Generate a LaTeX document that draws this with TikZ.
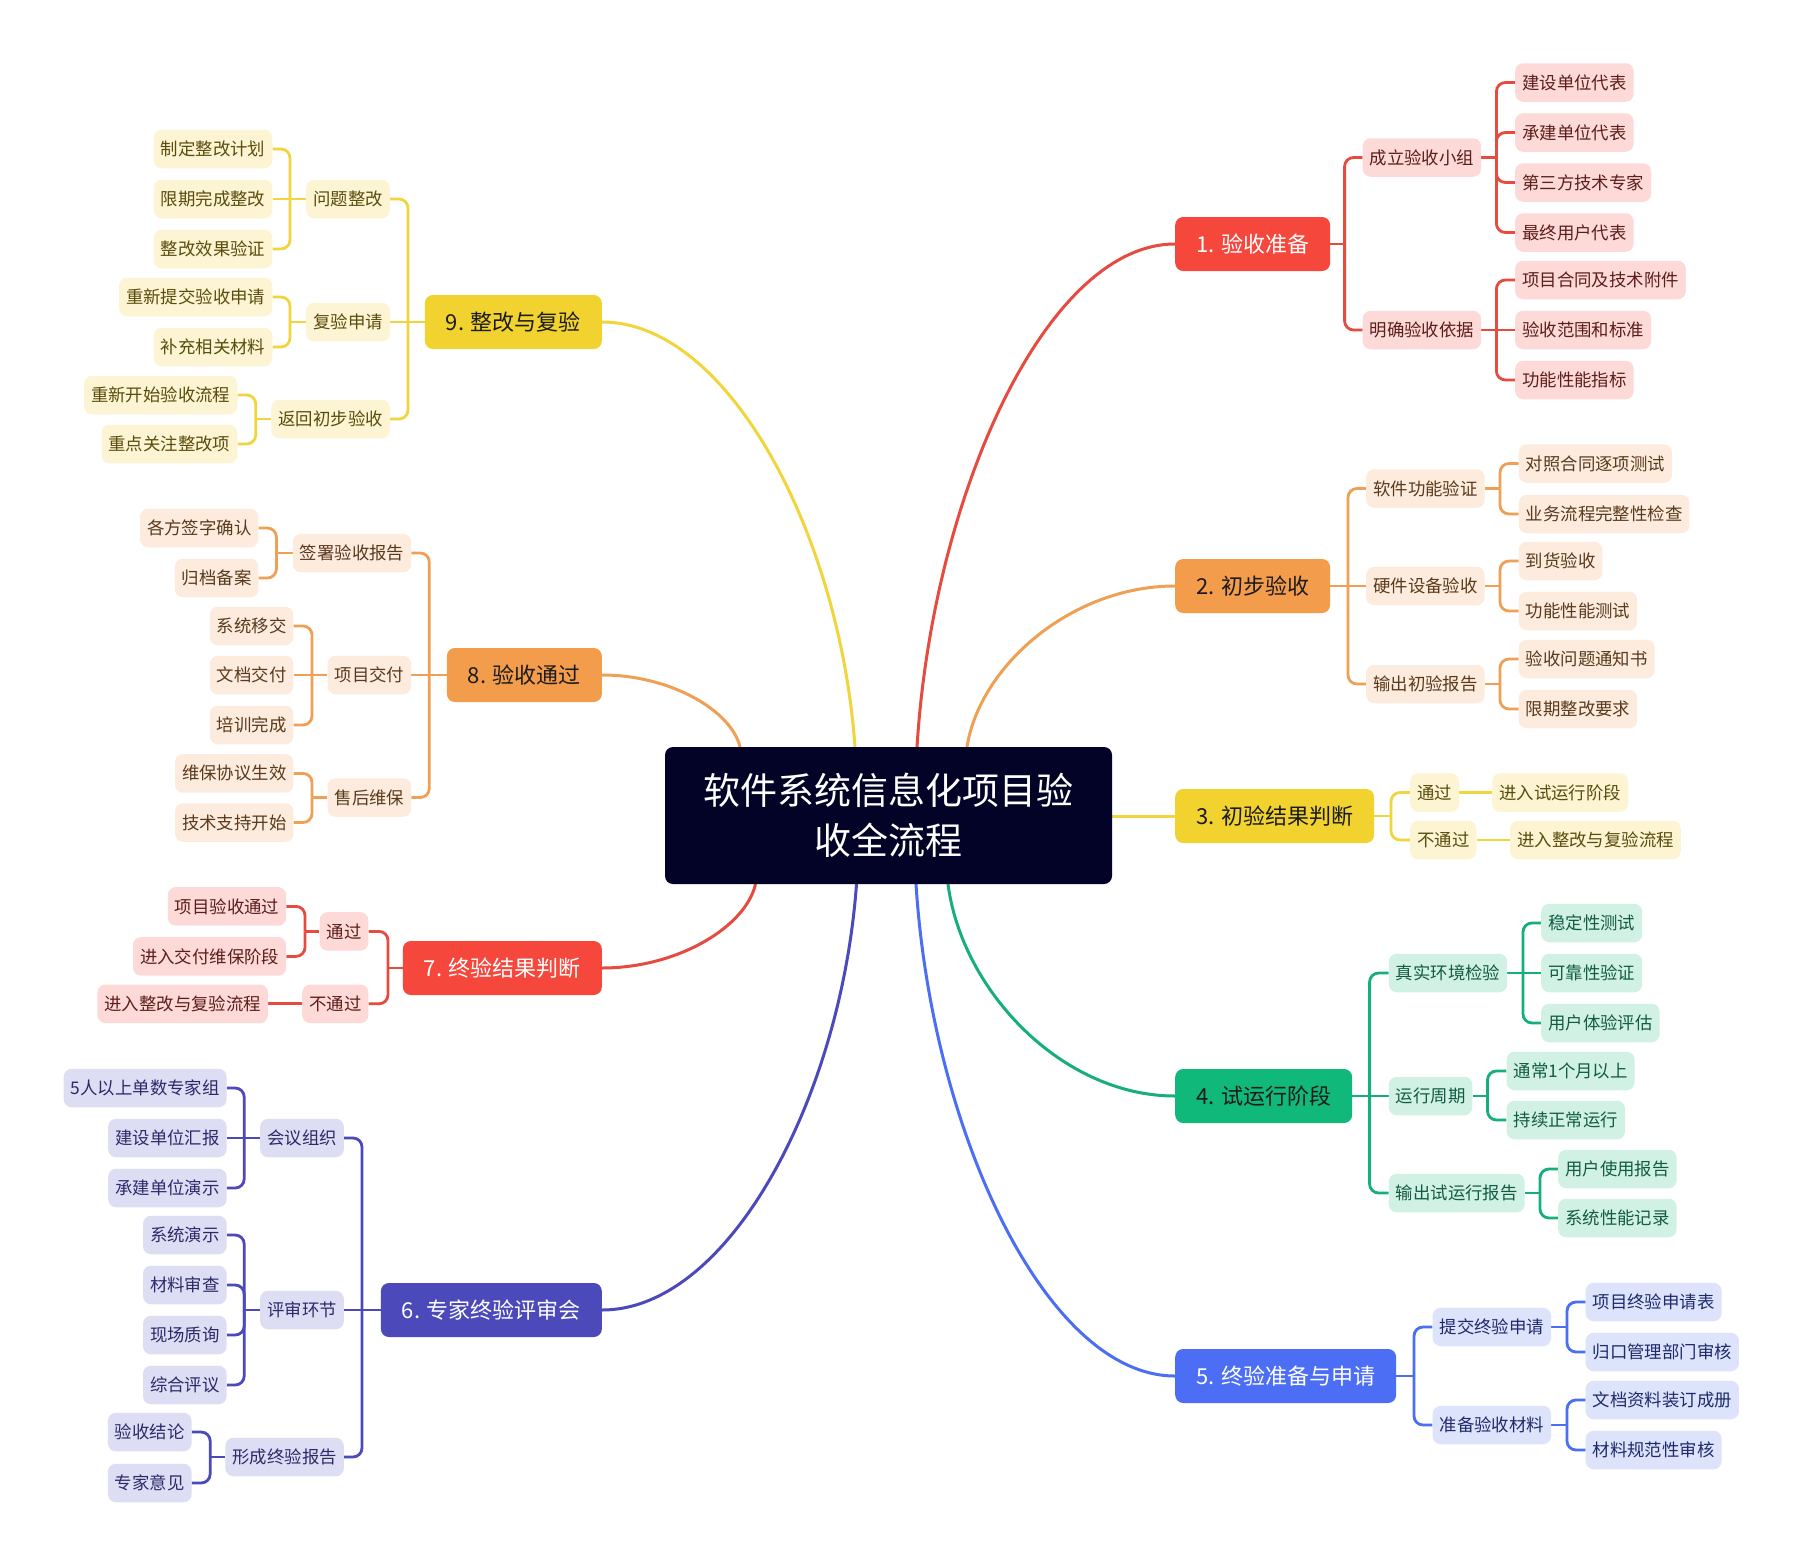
\documentclass[tikz,border=0pt]{standalone}
\usepackage{fontspec}
\setmainfont{Noto Sans CJK SC}
\usetikzlibrary{calc}
\definecolor{Ctr}{HTML}{020326}
\definecolor{MainDark}{HTML}{1B1B1B}
\definecolor{RedM}{HTML}{F5473B}\definecolor{RedL}{HTML}{FDDAD8}\definecolor{RedC}{HTML}{E54B3F}\definecolor{RedT}{HTML}{5B1E1A}
\definecolor{OraM}{HTML}{F39D4C}\definecolor{OraL}{HTML}{FDEBDD}\definecolor{OraC}{HTML}{EFA055}\definecolor{OraT}{HTML}{5A3A1C}
\definecolor{YelM}{HTML}{F2D22E}\definecolor{YelL}{HTML}{FCF4D2}\definecolor{YelC}{HTML}{F2D43C}\definecolor{YelT}{HTML}{5A4C0C}
\definecolor{GrnM}{HTML}{10B87A}\definecolor{GrnL}{HTML}{D1F1E5}\definecolor{GrnC}{HTML}{15AE7C}\definecolor{GrnT}{HTML}{125C43}
\definecolor{BluM}{HTML}{4C6EF5}\definecolor{BluL}{HTML}{DEE3FC}\definecolor{BluC}{HTML}{4C6EF5}\definecolor{BluT}{HTML}{1D2B6B}
\definecolor{PurM}{HTML}{4C49BB}\definecolor{PurL}{HTML}{DDDDF3}\definecolor{PurC}{HTML}{4C49BB}\definecolor{PurT}{HTML}{2C2A6B}
\pgfdeclarelayer{bg}
\pgfsetlayers{bg,main}
\tikzset{
  leaf/.style={rounded corners=8pt, minimum height=38.5pt, inner xsep=7pt, inner ysep=0pt, font=\fontsize{17.4}{21}\selectfont},
  mainbox/.style={rounded corners=8pt, minimum height=54pt, inner xsep=21pt, inner ysep=0pt, font=\fontsize{22}{26}\selectfont},
  ctrbox/.style={rounded corners=8pt, fill=Ctr, text=white, minimum width=447pt, minimum height=137pt, inner sep=0pt, align=center, font=\fontsize{37}{50}\selectfont},
  Rl/.style={leaf, fill=RedL, text=RedT}, Rm/.style={mainbox, fill=RedM, text=white}, Rc/.style={draw=RedC, line width=2.8pt},
  Ol/.style={leaf, fill=OraL, text=OraT}, Om/.style={mainbox, fill=OraM, text=MainDark}, Oc/.style={draw=OraC, line width=2.8pt},
  Yl/.style={leaf, fill=YelL, text=YelT}, Ym/.style={mainbox, fill=YelM, text=MainDark}, Yc/.style={draw=YelC, line width=2.8pt},
  Gl/.style={leaf, fill=GrnL, text=GrnT}, Gm/.style={mainbox, fill=GrnM, text=MainDark}, Gc/.style={draw=GrnC, line width=2.8pt},
  Bl/.style={leaf, fill=BluL, text=BluT}, Bm/.style={mainbox, fill=BluM, text=white}, Bc/.style={draw=BluC, line width=2.8pt},
  Pl/.style={leaf, fill=PurL, text=PurT}, Pm/.style={mainbox, fill=PurM, text=white}, Pc/.style={draw=PurC, line width=2.8pt},
}
% fan to the right: style, parent, junction x, bent children
\newcommand\fanR[4]{%
  \coordinate (#2jx) at (#3,0);
  \coordinate (#2j) at (#2.east -| #2jx);
  \draw[#1] (#2.east) -- (#2j);
  \foreach \ch in {#4} {\draw[#1, rounded corners=9pt] (#2j) |- (\ch.west);}
}
\newcommand\fanL[4]{%
  \coordinate (#2jx) at (#3,0);
  \coordinate (#2j) at (#2.west -| #2jx);
  \draw[#1] (#2.west) -- (#2j);
  \foreach \ch in {#4} {\draw[#1, rounded corners=9pt] (#2j) |- (\ch.east);}
}
% big curve from centre: style, start coordinate, end anchor
\newcommand\bigcurve[3]{%
  \coordinate (#2mid) at ($(#2)!0.5!(#3)$);
  \coordinate (#2tw) at ($(#2)!0.06!(#3)$);
  \draw[#1] (#2) .. controls (#2tw |- #2mid) and (#2mid |- #3) .. (#3);
}
\begin{document}
\begin{tikzpicture}[x=1pt,y=-1pt]
\useasboundingbox (0,0) rectangle (1802,1566);
% centre
\node[ctrbox] (c) at (888.5,815.5) {软件系统信息化项目验\\收全流程};
% ---------- branch 1
\node[Rm,anchor=west] (m1) at (1175,244) {1. 验收准备};
\node[Rl,anchor=west] (a1) at (1362.5,157.5) {成立验收小组};
\node[Rl,anchor=west] (b1) at (1362.5,330) {明确验收依据};
\node[Rl,anchor=west] (a1x1) at (1515,82.5) {建设单位代表};
\node[Rl,anchor=west] (a1x2) at (1515,132.5) {承建单位代表};
\node[Rl,anchor=west] (a1x3) at (1515,182.5) {第三方技术专家};
\node[Rl,anchor=west] (a1x4) at (1515,232.5) {最终用户代表};
\node[Rl,anchor=west] (b1x1) at (1515,280) {项目合同及技术附件};
\node[Rl,anchor=west] (b1x2) at (1515,330) {验收范围和标准};
\node[Rl,anchor=west] (b1x3) at (1515,380) {功能性能指标};
% ---------- branch 2
\node[Om,anchor=west] (m2) at (1175,586) {2. 初步验收};
\node[Ol,anchor=west] (a2) at (1366,488.5) {软件功能验证};
\node[Ol,anchor=west] (b2) at (1366,586) {硬件设备验收};
\node[Ol,anchor=west] (c2) at (1366,684) {输出初验报告};
\node[Ol,anchor=west] (a2x1) at (1518.6,463.5) {对照合同逐项测试};
\node[Ol,anchor=west] (a2x2) at (1518.6,514) {业务流程完整性检查};
\node[Ol,anchor=west] (b2x1) at (1518.6,561) {到货验收};
\node[Ol,anchor=west] (b2x2) at (1518.6,611) {功能性能测试};
\node[Ol,anchor=west] (c2x1) at (1518.6,659) {验收问题通知书};
\node[Ol,anchor=west] (c2x2) at (1518.6,709) {限期整改要求};
% ---------- branch 3
\node[Ym,anchor=west] (m3) at (1175,816) {3. 初验结果判断};
\node[Yl,anchor=west] (a3) at (1410,792.5) {通过};
\node[Yl,anchor=west] (b3) at (1410,840) {不通过};
\node[Yl,anchor=west] (a3x) at (1492,792.5) {进入试运行阶段};
\node[Yl,anchor=west] (b3x) at (1510,840) {进入整改与复验流程};
% ---------- branch 4
\node[Gm,anchor=west] (m4) at (1175,1096) {4. 试运行阶段};
\node[Gl,anchor=west] (a4) at (1388.6,973) {真实环境检验};
\node[Gl,anchor=west] (b4) at (1388.6,1096) {运行周期};
\node[Gl,anchor=west] (c4) at (1388.6,1193) {输出试运行报告};
\node[Gl,anchor=west] (a4x1) at (1541,923) {稳定性测试};
\node[Gl,anchor=west] (a4x2) at (1541,973) {可靠性验证};
\node[Gl,anchor=west] (a4x3) at (1541,1023) {用户体验评估};
\node[Gl,anchor=west] (b4x1) at (1506.4,1071) {通常1个月以上};
\node[Gl,anchor=west] (b4x2) at (1506.4,1120) {持续正常运行};
\node[Gl,anchor=west] (c4x1) at (1558,1169) {用户使用报告};
\node[Gl,anchor=west] (c4x2) at (1558,1218) {系统性能记录};
% ---------- branch 5
\node[Bm,anchor=west] (m5) at (1175,1376) {5. 终验准备与申请};
\node[Bl,anchor=west] (a5) at (1432.4,1327) {提交终验申请};
\node[Bl,anchor=west] (b5) at (1432.4,1425) {准备验收材料};
\node[Bl,anchor=west] (a5x1) at (1585.5,1302) {项目终验申请表};
\node[Bl,anchor=west] (a5x2) at (1585.5,1352) {归口管理部门审核};
\node[Bl,anchor=west] (b5x1) at (1585.5,1400) {文档资料装订成册};
\node[Bl,anchor=west] (b5x2) at (1585.5,1450) {材料规范性审核};
% ---------- branch 9
\node[Ym,anchor=east] (m9) at (602,322) {9. 整改与复验};
\node[Yl,anchor=east] (a9) at (390,199) {问题整改};
\node[Yl,anchor=east] (b9) at (390,322) {复验申请};
\node[Yl,anchor=east] (c9) at (390,419) {返回初步验收};
\node[Yl,anchor=east] (a9x1) at (272.5,149) {制定整改计划};
\node[Yl,anchor=east] (a9x2) at (272.5,199) {限期完成整改};
\node[Yl,anchor=east] (a9x3) at (272.5,249) {整改效果验证};
\node[Yl,anchor=east] (b9x1) at (272.5,297) {重新提交验收申请};
\node[Yl,anchor=east] (b9x2) at (272.5,347) {补充相关材料};
\node[Yl,anchor=east] (c9x1) at (237.5,395) {重新开始验收流程};
\node[Yl,anchor=east] (c9x2) at (237.5,444) {重点关注整改项};
% ---------- branch 8
\node[Om,anchor=east] (m8) at (602,675) {8. 验收通过};
\node[Ol,anchor=east] (a8) at (411.4,553) {签署验收报告};
\node[Ol,anchor=east] (b8) at (411.4,675) {项目交付};
\node[Ol,anchor=east] (c8) at (411.4,797.5) {售后维保};
\node[Ol,anchor=east] (a8x1) at (258.6,528) {各方签字确认};
\node[Ol,anchor=east] (a8x2) at (258.6,578) {归档备案};
\node[Ol,anchor=east] (b8x1) at (293.6,626) {系统移交};
\node[Ol,anchor=east] (b8x2) at (293.6,675) {文档交付};
\node[Ol,anchor=east] (b8x3) at (293.6,725) {培训完成};
\node[Ol,anchor=east] (c8x1) at (293.6,773.4) {维保协议生效};
\node[Ol,anchor=east] (c8x2) at (293.6,822.5) {技术支持开始};
% ---------- branch 7
\node[Rm,anchor=east] (m7) at (602,968) {7. 终验结果判断};
\node[Rl,anchor=east] (a7) at (368.6,931.4) {通过};
\node[Rl,anchor=east] (b7) at (368.6,1003.8) {不通过};
\node[Rl,anchor=east] (a7x1) at (286.4,906.4) {项目验收通过};
\node[Rl,anchor=east] (a7x2) at (286.4,956.4) {进入交付维保阶段};
\node[Rl,anchor=east] (b7x) at (268.2,1003.8) {进入整改与复验流程};
% ---------- branch 6
\node[Pm,anchor=east] (m6) at (602,1310) {6. 专家终验评审会};
\node[Pl,anchor=east] (a6) at (344,1138) {会议组织};
\node[Pl,anchor=east] (b6) at (344,1310) {评审环节};
\node[Pl,anchor=east] (c6) at (344,1457) {形成终验报告};
\node[Pl,anchor=east] (a6x1) at (226.8,1088) {5人以上单数专家组};
\node[Pl,anchor=east] (a6x2) at (226.8,1138) {建设单位汇报};
\node[Pl,anchor=east] (a6x3) at (226.8,1188) {承建单位演示};
\node[Pl,anchor=east] (b6x1) at (226.8,1235) {系统演示};
\node[Pl,anchor=east] (b6x2) at (226.8,1285) {材料审查};
\node[Pl,anchor=east] (b6x3) at (226.8,1335) {现场质询};
\node[Pl,anchor=east] (b6x4) at (226.8,1385) {综合评议};
\node[Pl,anchor=east] (c6x1) at (191.7,1432) {验收结论};
\node[Pl,anchor=east] (c6x2) at (191.7,1483) {专家意见};
% ---------- connectors
\begin{pgfonlayer}{bg}
\fill[white] (0,0) rectangle (1802,1566);
\coordinate (s1) at (917,747);
\coordinate (s2) at (967,747);
\coordinate (s4) at (948,884);
\coordinate (s5) at (916,884);
\coordinate (s6) at (856.5,884);
\coordinate (s7) at (755.5,884);
\coordinate (s8) at (740,747);
\coordinate (s9) at (855,747);
\bigcurve{Rc,line width=3pt}{s1}{m1.west}
\bigcurve{Oc,line width=3pt}{s2}{m2.west}
\draw[Yc,line width=3pt] (c.east |- m3.west) -- (m3.west);
\bigcurve{Gc,line width=3pt}{s4}{m4.west}
\bigcurve{Bc,line width=3pt}{s5}{m5.west}
\bigcurve{Pc,line width=3pt}{s6}{m6.east}
\bigcurve{Rc,line width=3pt}{s7}{m7.east}
\bigcurve{Oc,line width=3pt}{s8}{m8.east}
\bigcurve{Yc,line width=3pt}{s9}{m9.east}
% branch 1
\fanR{Rc}{m1}{1344.6}{a1,b1}
\fanR{Rc}{a1}{1496.4}{a1x1,a1x2,a1x3,a1x4}
\fanR{Rc}{b1}{1496.4}{b1x1,b1x3}
\draw[Rc] (b1.east) -- (b1x2.west);
% branch 2
\fanR{Oc}{m2}{1348}{a2,c2}
\draw[Oc] (m2.east) -- (b2.west);
\fanR{Oc}{a2}{1500}{a2x1,a2x2}
\fanR{Oc}{b2}{1500}{b2x1,b2x2}
\fanR{Oc}{c2}{1500}{c2x1,c2x2}
% branch 3
\fanR{Yc}{m3}{1391}{a3,b3}
\draw[Yc] (a3.east) -- (a3x.west);
\draw[Yc] (b3.east) -- (b3x.west);
% branch 4
\fanR{Gc}{m4}{1369.6}{a4,c4}
\draw[Gc] (m4.east) -- (b4.west);
\fanR{Gc}{a4}{1523}{a4x1,a4x3}
\draw[Gc] (a4.east) -- (a4x2.west);
\fanR{Gc}{b4}{1487.5}{b4x1,b4x2}
\fanR{Gc}{c4}{1540}{c4x1,c4x2}
% branch 5
\fanR{Bc}{m5}{1414}{a5,b5}
\fanR{Bc}{a5}{1567}{a5x1,a5x2}
\fanR{Bc}{b5}{1567}{b5x1,b5x2}
% branch 9
\fanL{Yc}{m9}{408}{a9,c9}
\draw[Yc] (m9.west) -- (b9.east);
\fanL{Yc}{a9}{290}{a9x1,a9x3}
\draw[Yc] (a9.west) -- (a9x2.east);
\fanL{Yc}{b9}{290}{b9x1,b9x2}
\fanL{Yc}{c9}{255.7}{c9x1,c9x2}
% branch 8
\fanL{Oc}{m8}{429.3}{a8,c8}
\draw[Oc] (m8.west) -- (b8.east);
\fanL{Oc}{a8}{276.4}{a8x1,a8x2}
\fanL{Oc}{b8}{312}{b8x1,b8x3}
\draw[Oc] (b8.west) -- (b8x2.east);
\fanL{Oc}{c8}{312}{c8x1,c8x2}
% branch 7
\fanL{Rc}{m7}{388}{a7,b7}
\fanL{Rc}{a7}{305}{a7x1,a7x2}
\draw[Rc] (b7.west) -- (b7x.east);
% branch 6
\fanL{Pc}{m6}{362}{a6,c6}
\draw[Pc] (m6.west) -- (b6.east);
\fanL{Pc}{a6}{244.2}{a6x1,a6x3}
\draw[Pc] (a6.west) -- (a6x2.east);
\fanL{Pc}{b6}{244.2}{b6x1,b6x2,b6x3,b6x4}
\fanL{Pc}{c6}{210.2}{c6x1,c6x2}
\end{pgfonlayer}
\end{tikzpicture}
\end{document}
